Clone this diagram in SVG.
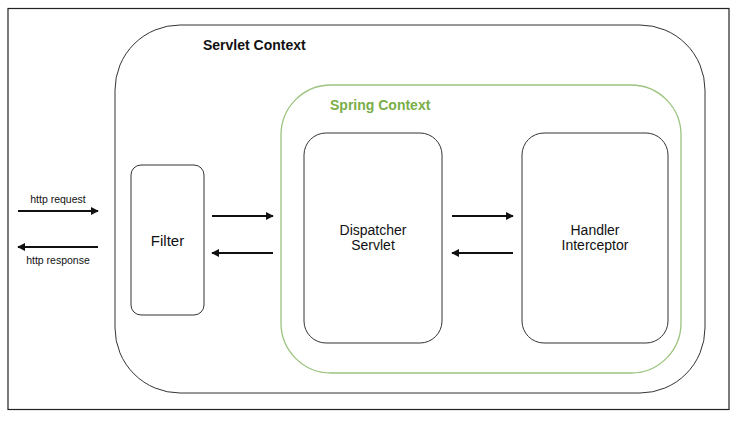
<svg xmlns="http://www.w3.org/2000/svg" width="737" height="422" viewBox="0 0 737 422">
<style>
text{font-family:"Liberation Sans","Noto Sans",sans-serif;fill:#111}
.box{fill:#fff;stroke:#333;stroke-width:1}
.ctx{font-weight:bold;font-size:14px}
.lbl{font-size:14px;text-anchor:middle}
.small{font-size:10.5px;text-anchor:middle}
.arr{stroke:#111;stroke-width:2;fill:none;marker-end:url(#ah)}
</style>
<defs>
<marker id="ah" viewBox="0 0 10 10" refX="9" refY="5" markerWidth="4" markerHeight="4" orient="auto"><path d="M0,0 L10,5 L0,10 z" fill="#111"/></marker>
</defs>
<rect x="0" y="0" width="737" height="422" fill="#fff"/>
<rect x="8" y="8.5" width="721" height="401" fill="#fff" stroke="#222" stroke-width="1.2"/>
<g id="servlet-context">
<rect class="box" x="115" y="25" width="590" height="368" rx="65"/>
<text class="ctx" x="203" y="50">Servlet Context</text>
</g>
<g id="spring-context">
<rect x="281" y="85" width="400" height="288" rx="50" fill="#fff" stroke="#9cc37f" stroke-width="1.3"/>
<text class="ctx" x="330" y="110" style="fill:#7aae47">Spring Context</text>
</g>
<g id="filter">
<rect class="box" x="131" y="165" width="73" height="150" rx="10"/>
<text class="lbl" x="167.5" y="246" style="font-size:15px">Filter</text>
</g>
<g id="dispatcher-servlet">
<rect class="box" x="304" y="133" width="138" height="210" rx="22"/>
<text class="lbl" x="373" y="235">Dispatcher</text>
<text class="lbl" x="373" y="250">Servlet</text>
</g>
<g id="handler-interceptor">
<rect class="box" x="522" y="133" width="146" height="210" rx="22"/>
<text class="lbl" x="595" y="235">Handler</text>
<text class="lbl" x="595" y="250">Interceptor</text>
</g>
<g id="connectors">
<line class="arr" x1="18" y1="211" x2="98" y2="211"/>
<line class="arr" x1="98" y1="247" x2="18" y2="247"/>
<line class="arr" x1="212" y1="216" x2="273" y2="216"/>
<line class="arr" x1="273" y1="253" x2="212" y2="253"/>
<line class="arr" x1="452" y1="216" x2="513" y2="216"/>
<line class="arr" x1="513" y1="253" x2="452" y2="253"/>
<text class="small" x="58" y="203">http request</text>
<text class="small" x="58" y="264">http response</text>
</g>
</svg>
